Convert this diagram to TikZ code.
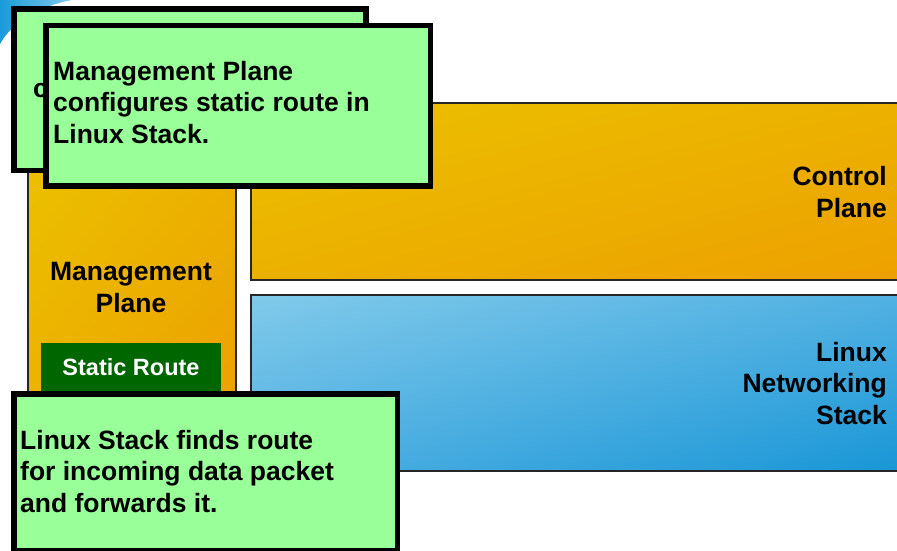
\documentclass[tikz,border=0pt]{standalone}
\usepackage{fontspec}
\usetikzlibrary{shadings}
\setmainfont{Liberation Sans}
\definecolor{notegreen}{RGB}{153,255,153}
\definecolor{routegreen}{RGB}{0,102,0}
\definecolor{orA}{RGB}{235,193,0}
\definecolor{orM}{RGB}{236,177,0}
\definecolor{orB}{RGB}{237,160,0}
\definecolor{blA}{RGB}{128,202,234}
\definecolor{blM}{RGB}{80,176,226}
\definecolor{blB}{RGB}{24,150,214}
\definecolor{swoosh}{RGB}{26,155,219}
\begin{document}
\begin{tikzpicture}[x=1pt,y=-1pt,
  notebox/.style={draw=black, line width=5.5pt, fill=notegreen, inner sep=0pt, anchor=north west},
  planebox/.style={draw=black!85, line width=2pt, inner sep=0pt, anchor=north west},
  orangeshade/.style={upper left=orA, upper right=orM, lower left=orM, lower right=orB},
  blueshade/.style={upper left=blA, upper right=blM, lower left=blM, lower right=blB},
  txt/.style={font=\bfseries\fontsize{26.5}{31.5}\selectfont, inner sep=0pt, text=black},
]
\useasboundingbox (0,0) rectangle (897,551);
\clip (0,0) rectangle (897,551);
\fill[white] (0,0) rectangle (897,551);
% swoosh at top-left
\shade[left color=swoosh, right color=blA] (0,0) -- (72,0) .. controls (40,6) and (12,22) .. (0,44) -- cycle;
% planes
\node[planebox, orangeshade, minimum width=660pt, minimum height=177pt] (ctrl) at (250,102) {};
\node[planebox, blueshade, minimum width=660pt, minimum height=176pt] (linux) at (250,294) {};
\node[planebox, orangeshade, minimum width=208pt, minimum height=270pt] (mgmt) at (27,150) {};
\node[fill=routegreen, inner sep=0pt, anchor=north west, minimum width=180pt, minimum height=67pt] (route) at (41,343) {};
\node[font=\bfseries\fontsize{23.5}{28}\selectfont, text=white, inner sep=0pt, anchor=base] (routetxt) at (131,375) {Static Route};
\node[txt, align=center, anchor=base] (mgmttxt) at (131,312) {Management\\Plane};
\node[txt, align=right, anchor=base east] (ctrltxt) at (887,217) {Control\\Plane};
\node[txt, align=right, anchor=base east] (linuxtxt) at (887,424) {Linux\\Networking\\Stack};
% notes
\node[notebox, minimum width=352pt, minimum height=161pt] (back) at (11,6.5) {};
\node[txt, anchor=base west] (backtxt) at (33,97) {c};
\node[notebox, minimum width=384.5pt, minimum height=160pt] (front) at (43,23) {};
\node[txt, align=left, anchor=base west] (fronttxt) at (53,143) {Management Plane\\configures static route in\\Linux Stack.};
\node[notebox, minimum width=383.5pt, minimum height=157pt] (bottom) at (11,391) {};
\node[txt, align=left, anchor=base west] (bottomtxt) at (20,512) {Linux Stack finds route\\for incoming data packet\\and forwards it.};
\end{tikzpicture}
\end{document}
